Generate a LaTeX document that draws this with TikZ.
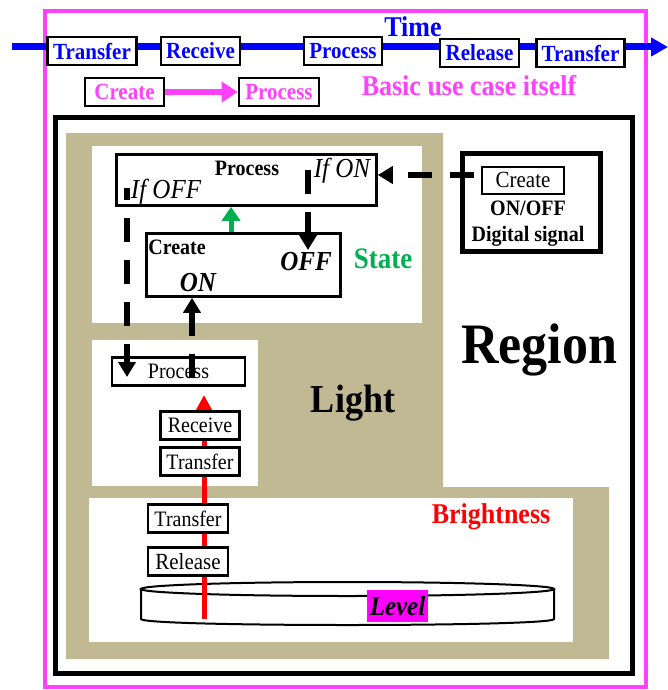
\documentclass[tikz,border=0pt]{standalone}
\usepackage{fontspec}
\usepackage{graphicx}
\setmainfont{Liberation Serif}
\usetikzlibrary{arrows.meta}
\definecolor{mag}{RGB}{255,64,255}
\definecolor{puremag}{RGB}{255,0,255}
\definecolor{tanc}{RGB}{193,185,148}
\definecolor{stgreen}{RGB}{0,176,80}
\newcommand\myfs[1]{\fontsize{#1}{#1}\selectfont}
\newcommand\tallt[1]{\scalebox{1}[1.1]{#1}}
\begin{document}
\begin{tikzpicture}[x=1pt,y=-1pt,
  box/.style={draw=black,line width=2.6pt,fill=white,inner sep=0pt},
  topbox/.style={box,text=blue,font=\bfseries\myfs{21}},
  magbox/.style={box,text=mag,font=\bfseries\myfs{21}},
  plainbox/.style={box,font=\myfs{20}},
  lbl/.style={inner sep=0pt},
  blackhead/.style={-{Triangle[length=15pt,width=17pt]}},
  darrow/.style={black,line width=5.5pt,blackhead,dash pattern=on 24pt off 18pt}
]
\useasboundingbox (0,0) rectangle (668,690);
% outer magenta frame
\draw[mag,line width=4pt] (45,11) rectangle (646,687);
% time axis
\coordinate (tstart) at (12,47);
\coordinate (tend) at (668,47);
\draw[blue,line width=7pt,-{Triangle[length=17pt,width=18pt]}] (tstart) -- (tend);
\node[topbox,minimum width=89pt,minimum height=28pt] (tA) at (92,51) {\tallt{Transfer}};
\node[topbox,minimum width=79pt,minimum height=28pt] (tB) at (200.5,51) {\tallt{Receive}};
\node[topbox,minimum width=78pt,minimum height=28pt] (tC) at (343,51) {\tallt{Process}};
\node[topbox,minimum width=79pt,minimum height=28pt] (tD) at (479.5,53) {\tallt{Release}};
\node[topbox,minimum width=88pt,minimum height=28pt] (tE) at (580.5,53) {\tallt{Transfer}};
\node[lbl,text=blue,font=\bfseries\myfs{26}] (time) at (413,27) {\tallt{Time}};
% basic use case
\node[magbox,minimum width=79pt,minimum height=28pt] (mc) at (124.5,92) {\tallt{Create}};
\node[magbox,minimum width=80pt,minimum height=28pt] (mp) at (279,92) {\tallt{Process}};
\draw[mag,line width=6pt,-{Triangle[length=16pt,width=20pt]}] (mc) -- (mp);
\node[lbl,text=mag,font=\bfseries\myfs{26}] (basic) at (469,86) {\tallt{Basic use case itself}};
% region frame
\draw[line width=5pt] (55,118) rectangle (632,673);
\fill[tanc] (66,133) -- (443,133) -- (443,487) -- (609,487) -- (609,659) -- (66,659) -- cycle;
\fill[white] (92,146) rectangle (422,323);
\fill[white] (92,340) rectangle (258,486);
\fill[white] (89,498) rectangle (573,642);
\node[lbl,font=\bfseries\myfs{52}] (region) at (539,350) {\tallt{Region}};
\node[lbl,font=\bfseries\myfs{36}] (light) at (353,403) {\tallt{Light}};
\node[lbl,text=stgreen,font=\bfseries\myfs{27}] (state) at (383,259) {\tallt{State}};
\node[lbl,text=red,font=\bfseries\myfs{26}] (bright) at (491,517) {\tallt{Brightness}};
% level disk
\draw[line width=2pt,fill=white] (141,589) -- (141,619) .. controls (141,627) and (554,627) .. (554,619) -- (554,589);
\draw[line width=2pt,fill=white] (347.5,589) ellipse [x radius=206.5,y radius=7];
\node[fill=puremag,inner sep=0pt,minimum width=61pt,minimum height=32pt,font=\bfseries\itshape\myfs{25}] (lvl) at (397.5,606) {\tallt{Level}};
% red arrow
\coordinate (r0) at (204,619);
\coordinate (r1) at (204,395);
\draw[red,line width=5pt,-{Triangle[length=15pt,width=15pt]}] (r0) -- (r1);
% light / brightness boxes
\node[plainbox,minimum width=133pt,minimum height=28pt] (lp) at (178.5,371.5) {\tallt{Process}};
\node[plainbox,minimum width=79pt,minimum height=28pt] (rcv) at (200,425.5) {\tallt{Receive}};
\node[plainbox,minimum width=79pt,minimum height=28pt] (trf) at (200,461.5) {\tallt{Transfer}};
\node[plainbox,minimum width=80pt,minimum height=28pt] (trf2) at (188,518.5) {\tallt{Transfer}};
\node[plainbox,minimum width=80pt,minimum height=28pt,font=\myfs{21}] (rel) at (188,561.5) {\tallt{Release}};
% state boxes
\node[box,minimum width=260pt,minimum height=51pt] (proc) at (246.5,180) {};
\node[lbl,font=\bfseries\myfs{20}] (proct) at (247,168) {\tallt{Process}};
\node[lbl,font=\itshape\myfs{25}] (ifon) at (342,171) {\tallt{If ON}};
\node[lbl,font=\itshape\myfs{25}] (ifoff) at (166,192) {\tallt{If OFF}};
\node[box,minimum width=194pt,minimum height=63pt] (crt) at (243.5,265) {};
\node[lbl,font=\bfseries\myfs{20}] (crtt) at (177,247) {\tallt{Create}};
\node[lbl,font=\bfseries\itshape\myfs{25}] (off) at (306,262) {\tallt{OFF}};
\node[lbl,font=\bfseries\itshape\myfs{25}] (on) at (198,283) {\tallt{ON}};
% signal box
\node[draw,line width=5pt,fill=white,inner sep=0pt,minimum width=138pt,minimum height=98pt] (sig) at (531.5,202.5) {};
\node[box,line width=2pt,minimum width=82pt,minimum height=27pt,font=\myfs{21}] (cr2) at (523,180) {\tallt{Create}};
\node[lbl,font=\bfseries\myfs{20}] (onoff) at (528,208) {\tallt{ON/OFF}};
\node[lbl,font=\bfseries\myfs{20}] (dig) at (528,236) {\tallt{Digital signal}};
% green arrow
\coordinate (g0) at (231,232);
\draw[stgreen,line width=5pt,-{Triangle[length=14pt,width=18pt]}] (g0) -- (g0 |- proc.south);
% dashed arrows
\coordinate (h0) at (474,175);
\draw[darrow] (h0) -- (h0 -| proc.east);
\coordinate (on0) at (308,170);
\coordinate (on1) at (308,250);
\draw[darrow] (on0) -- (on1);
\coordinate (off0) at (127,188);
\coordinate (off1) at (127,377);
\draw[darrow,dash phase=12pt] (off0) -- (off1);
\coordinate (up0) at (192,378);
\draw[darrow] (up0) -- (up0 |- crt.south);
\end{tikzpicture}
\end{document}
